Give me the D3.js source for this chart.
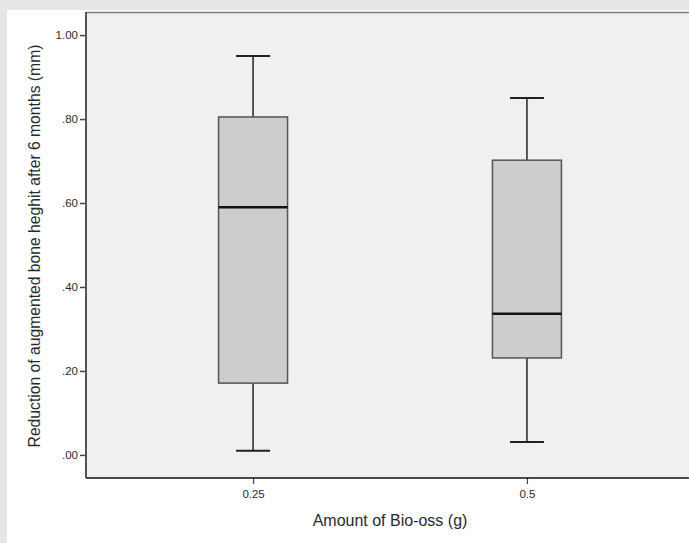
<!DOCTYPE html>
<html lang="en">
<head>
    <meta charset="UTF-8">
    <title>Bone height reduction by Bio-oss amount</title>
    <script src="https://d3js.org/d3.v7.min.js"></script>
    <style>
        body {
            margin: 0;
            background-color: #e6e6e6;
            font-family: "Liberation Sans", Arial, Helvetica, sans-serif;
        }
        svg text {
            fill: #2a2a2a;
        }
    </style>
</head>
<body>
    <svg id="chart" width="689" height="543"></svg>
    <script>
        // data
        var groups = ["0.25", "0.5"];
        var whiskerLow = [0.01, 0.031];
        var q1 = [0.171, 0.231];
        var median = [0.59, 0.336];
        var q3 = [0.805, 0.702];
        var whiskerHigh = [0.95, 0.85];
        var yTicks = [0, 0.2, 0.4, 0.6, 0.8, 1.0];

        var svg = d3.select("#chart"),
            width = +svg.attr("width"),
            height = +svg.attr("height");

        var plot = { left: 86, top: 12, right: 694, bottom: 478 };

        // white panel inside the grey frame
        svg.append("rect")
            .attr("x", 7).attr("y", 10)
            .attr("width", width - 7).attr("height", height - 10)
            .attr("fill", "#fff");

        var y = d3.scaleLinear()
            .domain([-0.055, 1.055])
            .range([plot.bottom, plot.top]);

        var x = d3.scalePoint()
            .domain(groups)
            .range([plot.left, plot.right])
            .padding(0.61);

        var boxW = 69, capW = 34;

        // plot background
        svg.append("rect")
            .attr("x", plot.left).attr("y", plot.top)
            .attr("width", plot.right - plot.left).attr("height", plot.bottom - plot.top)
            .attr("fill", "#f0f0f0");

        // top border
        svg.append("line")
            .attr("x1", plot.left).attr("x2", plot.right)
            .attr("y1", plot.top + 0.5).attr("y2", plot.top + 0.5)
            .attr("stroke", "#7a7a7a").attr("stroke-width", 1.5);

        // y axis
        var yAxis = d3.axisLeft(y)
            .tickValues(yTicks)
            .tickSize(6)
            .tickFormat(function (d) { return d === 1 ? "1.00" : d3.format(".2f")(d).replace(/^0/, ""); });

        var gy = svg.append("g")
            .attr("transform", "translate(" + plot.left + ",0)")
            .call(yAxis);
        gy.select(".domain").remove();
        gy.append("line")
            .attr("x1", 0).attr("x2", 0)
            .attr("y1", plot.top).attr("y2", plot.bottom)
            .attr("stroke", "#555").attr("stroke-width", 2);
        gy.selectAll(".tick line").attr("stroke", "#444").attr("stroke-width", 1.5);
        gy.selectAll(".tick text")
            .attr("x", -8)
            .style("font-family", "'Liberation Sans', Arial, sans-serif")
            .style("font-size", "11.5px")
            .attr("fill", "#2a2a2a");

        // x axis
        var xAxis = d3.axisBottom(x).tickSize(6).tickPadding(6);
        var gx = svg.append("g")
            .attr("transform", "translate(0," + plot.bottom + ")")
            .call(xAxis);
        gx.select(".domain").remove();
        gx.append("line")
            .attr("x1", plot.left).attr("x2", plot.right)
            .attr("y1", 0).attr("y2", 0)
            .attr("stroke", "#111").attr("stroke-width", 1.5);
        gx.selectAll(".tick line").attr("stroke", "#444").attr("stroke-width", 1.2);
        gx.selectAll(".tick text")
            .style("font-family", "'Liberation Sans', Arial, sans-serif")
            .style("font-size", "11.5px")
            .attr("fill", "#2a2a2a");

        // boxes
        var box = svg.selectAll(".box")
            .data(groups)
            .enter().append("g")
            .attr("class", "box");

        box.append("line")
            .attr("x1", function (d) { return x(d); })
            .attr("x2", function (d) { return x(d); })
            .attr("y1", function (d, i) { return y(whiskerHigh[i]); })
            .attr("y2", function (d, i) { return y(whiskerLow[i]); })
            .attr("stroke", "#222").attr("stroke-width", 1.5);

        box.append("rect")
            .attr("x", function (d) { return x(d) - boxW / 2; })
            .attr("y", function (d, i) { return y(q3[i]); })
            .attr("width", boxW)
            .attr("height", function (d, i) { return y(q1[i]) - y(q3[i]); })
            .attr("fill", "#cdcdcd")
            .attr("stroke", "#555").attr("stroke-width", 1.5);

        [whiskerHigh, whiskerLow].forEach(function (arr) {
            box.append("line")
                .attr("x1", function (d) { return x(d) - capW / 2; })
                .attr("x2", function (d) { return x(d) + capW / 2; })
                .attr("y1", function (d, i) { return y(arr[i]); })
                .attr("y2", function (d, i) { return y(arr[i]); })
                .attr("stroke", "#222").attr("stroke-width", 2);
        });

        box.append("line")
            .attr("x1", function (d) { return x(d) - boxW / 2; })
            .attr("x2", function (d) { return x(d) + boxW / 2; })
            .attr("y1", function (d, i) { return y(median[i]); })
            .attr("y2", function (d, i) { return y(median[i]); })
            .attr("stroke", "#111").attr("stroke-width", 2.5);

        // axis titles
        svg.append("text")
            .attr("transform", "translate(40," + 246 + ") rotate(-90)")
            .attr("text-anchor", "middle")
            .style("font-size", "15.7px")
            .text("Reduction of augmented bone heghit after 6 months (mm)");

        svg.append("text")
            .attr("x", 390).attr("y", 526)
            .attr("text-anchor", "middle")
            .style("font-size", "16px")
            .text("Amount of Bio-oss (g)");
    </script>
</body>
</html>
